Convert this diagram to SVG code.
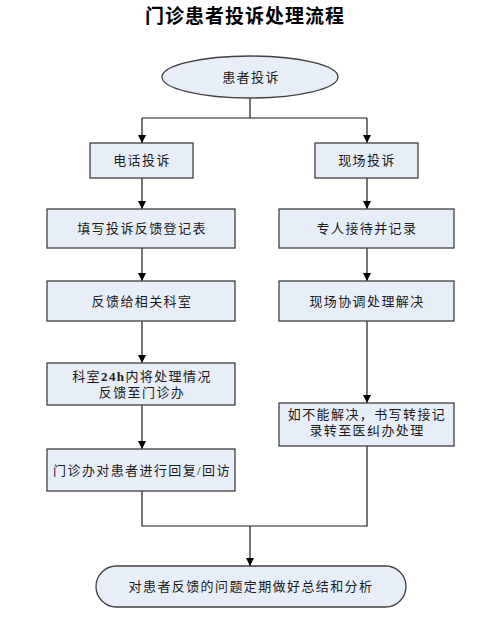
<svg xmlns="http://www.w3.org/2000/svg" width="500" height="632" viewBox="0 0 500 632">
<style>
.n{fill:#e8eef8;stroke:#404040;stroke-width:1.3}
.t{font-family:"Liberation Serif","Noto Sans CJK SC",serif;font-size:13px;letter-spacing:1.4px;fill:#1a1a1a;text-anchor:middle;dominant-baseline:central}
.b{font-weight:bold}
.c{fill:none;stroke:#1a1a1a;stroke-width:1.2}
.title{font-family:"Noto Sans CJK SC",serif;font-size:19px;font-weight:bold;fill:#000;text-anchor:middle;letter-spacing:1px}
</style>
<defs>
<marker id="ah" viewBox="0 0 8 8" refX="8" refY="4" markerWidth="8" markerHeight="8" markerUnits="userSpaceOnUse" orient="auto">
<path d="M0,0 L8,4 L0,8 z" fill="#000"/>
</marker>
</defs>
<rect width="500" height="632" fill="#fff"/>
<text class="title" x="245" y="23">门诊患者投诉处理流程</text>
<g id="connectors">
<polyline class="c" points="250,98 250,118"/>
<polyline class="c" points="142,118 367,118"/>
<polyline class="c" points="142,118 142,143" marker-end="url(#ah)"/>
<polyline class="c" points="367,118 367,143" marker-end="url(#ah)"/>
<polyline class="c" points="142,178 142,209" marker-end="url(#ah)"/>
<polyline class="c" points="367,178 367,209" marker-end="url(#ah)"/>
<polyline class="c" points="142,248 142,281" marker-end="url(#ah)"/>
<polyline class="c" points="367,248 367,281" marker-end="url(#ah)"/>
<polyline class="c" points="142,321 142,363" marker-end="url(#ah)"/>
<polyline class="c" points="367,321 367,403" marker-end="url(#ah)"/>
<polyline class="c" points="142,405 142,449" marker-end="url(#ah)"/>
<polyline class="c" points="142,491 142,526 367,526 367,446"/>
<polyline class="c" points="250,526 250,566" marker-end="url(#ah)"/>
</g>
<g id="start"><ellipse class="n" cx="250" cy="77" rx="88" ry="21"/><text class="t" x="251" y="77">患者投诉</text></g>
<g id="phone"><rect class="n" x="90" y="143" width="103" height="35"/><text class="t" x="142" y="160.5">电话投诉</text></g>
<g id="onsite"><rect class="n" x="315" y="143" width="103" height="35"/><text class="t" x="367" y="160.5">现场投诉</text></g>
<g id="fillform"><rect class="n" x="47" y="209" width="188" height="39"/><text class="t" x="142" y="228.5">填写投诉反馈登记表</text></g>
<g id="receive"><rect class="n" x="279" y="209" width="175" height="39"/><text class="t" x="367" y="228.5">专人接待并记录</text></g>
<g id="feedback"><rect class="n" x="47" y="281" width="188" height="40"/><text class="t" x="142" y="301">反馈给相关科室</text></g>
<g id="coordinate"><rect class="n" x="279" y="281" width="175" height="40"/><text class="t" x="367" y="301">现场协调处理解决</text></g>
<g id="dept24h"><rect class="n" x="47" y="363" width="188" height="42"/><text class="t" x="142" y="376">科室<tspan class="b">24h</tspan>内将处理情况</text><text class="t" x="142" y="392">反馈至门诊办</text></g>
<g id="transfer"><rect class="n" x="279" y="403" width="175" height="43"/><text class="t" x="367" y="414.5">如不能解决，书写转接记</text><text class="t" x="367" y="430.5">录转至医纠办处理</text></g>
<g id="reply"><rect class="n" x="47" y="449" width="188" height="42"/><text class="t" x="142" y="470">门诊办对患者进行回复/回访</text></g>
<g id="summary"><rect class="n" x="96" y="566" width="310" height="41" rx="20.5" ry="20.5"/><text class="t" x="251" y="586.5">对患者反馈的问题定期做好总结和分析</text></g>
</svg>
